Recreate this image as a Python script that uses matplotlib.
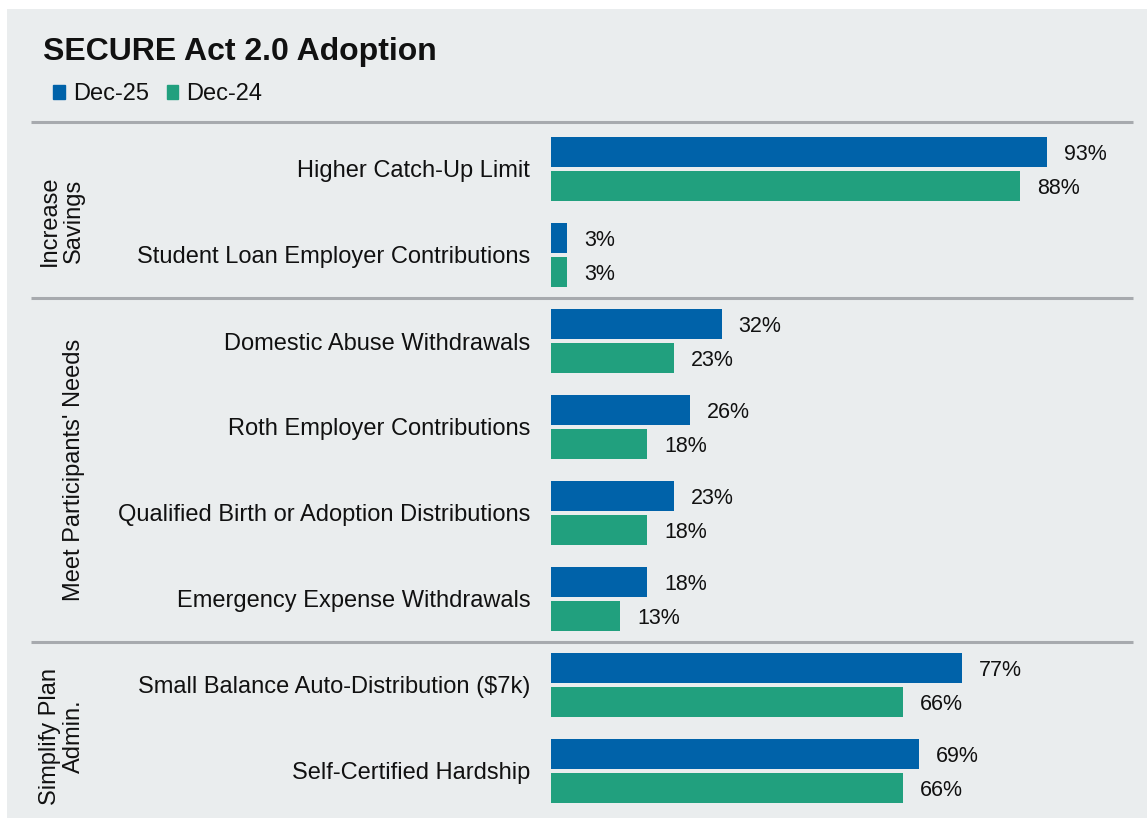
import numpy as np
import matplotlib
matplotlib.use("Agg")
import matplotlib.pyplot as plt
from matplotlib.patches import Rectangle, Patch
from matplotlib.transforms import blended_transform_factory

plt.rcParams['font.family'] = ['Liberation Sans', 'DejaVu Sans']

# data
items = [
    "Higher Catch-Up Limit",
    "Student Loan Employer Contributions",
    "Domestic Abuse Withdrawals",
    "Roth Employer Contributions",
    "Qualified Birth or Adoption Distributions",
    "Emergency Expense Withdrawals",
    "Small Balance Auto-Distribution ($7k)",
    "Self-Certified Hardship",
]
dec25 = [93, 3, 32, 26, 23, 18, 77, 69]
dec24 = [88, 3, 23, 18, 18, 13, 66, 66]
groups = ["Increase\nSavings", "Meet Participants' Needs", "Simplify Plan\nAdmin."]
group_sizes = [2, 4, 2]
series_names = ["Dec-25", "Dec-24"]

BLUE = "#0062A9"
GREEN = "#21A07E"
BG = "#EAEDEE"
RULE = "#A7AAAE"
TXT = "#111111"

W, H = 1147, 818
fig = plt.figure(figsize=(W / 100, H / 100), dpi=100)
fig.patch.set_facecolor("white")
fig.patches.append(Rectangle((7 / W, 0), 1 - 7 / W, 1 - 9 / H,
                             transform=fig.transFigure, facecolor=BG,
                             edgecolor="none", zorder=-10))

def fx(px):
    return px / W

def fy(px):
    return 1 - px / H

# axes: bars start at x=551, 100% ~ 533 px
ax_left, ax_right = 551, 1133
ax_top, ax_bot = 122, 818
ax = fig.add_axes([fx(ax_left), fy(ax_bot), fx(ax_right - ax_left), (ax_bot - ax_top) / H])
ax.set_facecolor("none")
px_per_pct = 5.333
ax.set_xlim(0, (ax_right - ax_left) / px_per_pct)
pitch = 86.0
top_off = (169 - ax_top) / pitch
ax.set_ylim(len(items) - 1 + top_off, -top_off)

y = np.arange(len(items))
bh = 30 / pitch
off = 17 / pitch
b1 = ax.barh(y - off, dec25, height=bh, color=BLUE, label=series_names[0])
b2 = ax.barh(y + off, dec24, height=bh, color=GREEN, label=series_names[1])

for bars, vals in ((b1, dec25), (b2, dec24)):
    for rect, v in zip(bars, vals):
        ax.annotate(f"{v}%", (v, rect.get_y() + rect.get_height() / 2),
                    xytext=(12.2, -1.5), textcoords="offset points",
                    ha="left", va="center", fontsize=15.5, color=TXT)

ax.set_yticks(y)
ax.set_yticklabels(items, fontsize=17, color=TXT)
ax.tick_params(axis="y", length=0, pad=15)
ax.set_xticks([])
for s in ax.spines.values():
    s.set_visible(False)

# group rules and labels
tr = blended_transform_factory(fig.transFigure, ax.transData)
bounds = np.cumsum([0] + group_sizes)
rule_y = [-top_off] + [b - 0.5 for b in bounds[1:-1]]
for ry in rule_y:
    ax.plot([fx(31), fx(1133)], [ry, ry], transform=tr, color=RULE,
            lw=2.2, clip_on=False, solid_capstyle="butt")

for g, s0, s1 in zip(groups, bounds[:-1], bounds[1:]):
    yc = (s0 + s1 - 1) / 2
    if "\n" in g:
        yc += 0.1
    ax.text(fx(85), yc, g, transform=tr, rotation=90, ha="right", va="center",
            fontsize=17, color=TXT, linespacing=1.1, multialignment="center")

# title and legend
fig.text(fx(43), fy(60), "SECURE Act 2.0 Adoption", fontsize=23,
         fontweight="bold", color=TXT, va="baseline", ha="left")
handles = [Patch(color=BLUE), Patch(color=GREEN)]
fig.legend(handles, series_names, loc="upper left",
           bbox_to_anchor=(fx(44), fy(74)), ncol=2, frameon=False,
           fontsize=17, handlelength=0.48, handleheight=0.48,
           handletextpad=0.34, columnspacing=0.75, borderaxespad=0,
           labelcolor=TXT)

fig.savefig("out.png", dpi=100, facecolor=fig.get_facecolor())
